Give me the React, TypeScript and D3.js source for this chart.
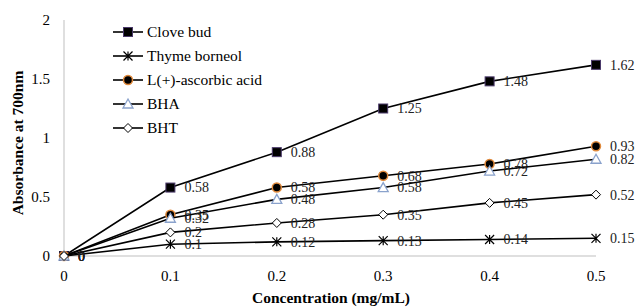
import React, { useRef, useEffect } from "react";
import * as d3 from "d3";

const CONC = [0, 0.1, 0.2, 0.3, 0.4, 0.5];
const SERIES_NAMES = ["Clove bud", "Thyme borneol", "L(+)-ascorbic acid", "BHA", "BHT"];
const CLOVE = [0, 0.58, 0.88, 1.25, 1.48, 1.62];
const THYME = [0, 0.1, 0.12, 0.13, 0.14, 0.15];
const ASCORBIC = [0, 0.35, 0.58, 0.68, 0.78, 0.93];
const BHA = [0, 0.32, 0.48, 0.58, 0.72, 0.82];
const BHT = [0, 0.2, 0.28, 0.35, 0.45, 0.52];
const Y_TICKS = [0, 0.5, 1, 1.5, 2];
const X_TICKS = [0, 0.1, 0.2, 0.3, 0.4, 0.5];

const SERIES = [CLOVE, THYME, ASCORBIC, BHA, BHT];
const MARKERS = ["square", "star", "circle", "triangle", "diamond"];

const FONT = "Liberation Serif, Times New Roman, serif";

function drawMarker(g: any, type: string, x: number, y: number) {
  if (type === "square") {
    g.append("rect").attr("x", x - 4.5).attr("y", y - 4.5).attr("width", 9).attr("height", 9)
      .attr("fill", "#000").attr("stroke", "#4b3a6b").attr("stroke-width", 1);
  } else if (type === "circle") {
    g.append("circle").attr("cx", x).attr("cy", y).attr("r", 4.5)
      .attr("fill", "#000").attr("stroke", "#e08a3c").attr("stroke-width", 1.5);
  } else if (type === "triangle") {
    g.append("path").attr("d", `M${x},${y - 5}L${x + 5},${y + 4}L${x - 5},${y + 4}Z`)
      .attr("fill", "#fff").attr("stroke", "#8aa2cc").attr("stroke-width", 1.3);
  } else if (type === "diamond") {
    g.append("path").attr("d", `M${x},${y - 4.5}L${x + 4.5},${y}L${x},${y + 4.5}L${x - 4.5},${y}Z`)
      .attr("fill", "#fff").attr("stroke", "#000").attr("stroke-width", 1);
  } else if (type === "star") {
    const s = 4.5;
    g.append("path")
      .attr("d", `M${x - s},${y - s}L${x + s},${y + s}M${x - s},${y + s}L${x + s},${y - s}M${x},${y - s}L${x},${y + s}`)
      .attr("stroke", "#000").attr("stroke-width", 1.2).attr("fill", "none");
  }
}

const App: React.FC = () => {
  const svgRef = useRef<SVGSVGElement | null>(null);

  useEffect(() => {
    document.body.style.margin = "0";
    if (!svgRef.current) return;
    const svg = d3.select(svgRef.current);
    svg.selectAll("*").remove();

    const x = d3.scaleLinear().domain([0, 0.5]).range([64, 596]);
    const y = d3.scaleLinear().domain([0, 2]).range([256, 20]);

    // axis lines
    svg.append("line").attr("x1", 64).attr("x2", 64).attr("y1", y(2)).attr("y2", y(0))
      .attr("stroke", "#bfbfbf").attr("stroke-width", 1);
    svg.append("line").attr("x1", 64).attr("x2", 596).attr("y1", y(0)).attr("y2", y(0))
      .attr("stroke", "#bfbfbf").attr("stroke-width", 1);

    // tick labels
    svg.append("g").selectAll("text").data(Y_TICKS).join("text")
      .attr("x", 50).attr("y", (d) => y(d)).attr("dy", "0.35em")
      .attr("text-anchor", "end").attr("font-size", 15)
      .text((d) => `${d}`);
    svg.append("g").selectAll("text").data(X_TICKS).join("text")
      .attr("x", (d) => x(d)).attr("y", 281)
      .attr("text-anchor", "middle").attr("font-size", 15)
      .text((d) => `${d}`);

    // titles
    svg.append("text").attr("x", 331).attr("y", 303).attr("text-anchor", "middle")
      .attr("font-size", 15.5).attr("font-weight", "bold")
      .text("Concentration (mg/mL)");
    svg.append("text").attr("transform", `translate(23,143) rotate(-90)`)
      .attr("text-anchor", "middle").attr("font-size", 15.5)
      .attr("font-weight", "bold").text("Absorbance at 700nm");

    const line = d3.line<number>().x((_, i) => x(CONC[i])).y((d) => y(d));

    SERIES.forEach((vals, si) => {
      const g = svg.append("g");
      g.append("path").attr("d", line(vals)!).attr("fill", "none")
        .attr("stroke", "#000").attr("stroke-width", 1.6);
      vals.forEach((v, i) => drawMarker(g, MARKERS[si], x(CONC[i]), y(v)));
      g.selectAll("text.lbl").data(vals).join("text").attr("class", "lbl")
        .attr("x", (_, i) => x(CONC[i]) + 14).attr("y", (d) => y(d)).attr("dy", "0.35em")
        .attr("font-size", 14).attr("fill", "#222")
        .text((d) => `${d}`);
    });

    // legend
    const lg = svg.append("g");
    SERIES_NAMES.forEach((name, i) => {
      const ly = 32 + i * 24;
      lg.append("line").attr("x1", 113).attr("x2", 143).attr("y1", ly).attr("y2", ly)
        .attr("stroke", "#000").attr("stroke-width", 1.6);
      drawMarker(lg, MARKERS[i], 128, ly);
      lg.append("text").attr("x", 147).attr("y", ly).attr("dy", "0.35em")
        .attr("font-size", 15.5).text(name);
    });
  }, []);

  return (
    <svg ref={svgRef} width={638} height={307}
      style={{ display: "block", background: "#fff", fontFamily: FONT }} />
  );
};

export default App;
